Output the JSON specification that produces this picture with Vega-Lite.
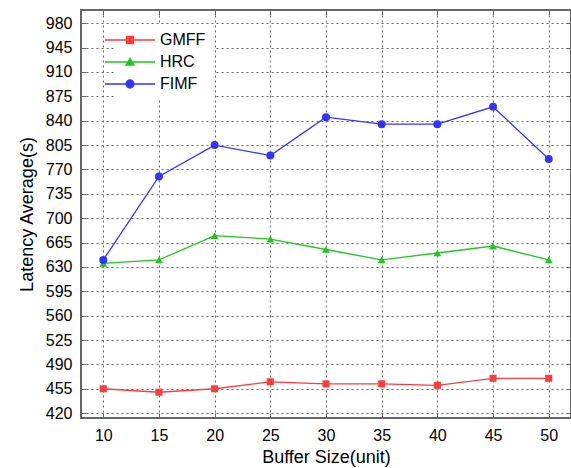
{
  "$schema": "https://vega.github.io/schema/vega-lite/v6.json",
  "width": 490,
  "height": 408,
  "autosize": "none",
  "padding": {"left": 81, "top": 10, "right": 0, "bottom": 50},
  "config": {
    "font": "Liberation Sans",
    "view": {"stroke": "#666666", "strokeWidth": 2},
    "axis": {"labelFont": "Liberation Sans", "titleFont": "Liberation Sans", "labelColor": "#000", "titleColor": "#000", "titleFontWeight": "normal"}
  },
  "data": {
    "values": [
      {"x": 10, "y": 455, "s": "GMFF"}, {"x": 15, "y": 450, "s": "GMFF"}, {"x": 20, "y": 455, "s": "GMFF"},
      {"x": 25, "y": 465, "s": "GMFF"}, {"x": 30, "y": 462, "s": "GMFF"}, {"x": 35, "y": 462, "s": "GMFF"},
      {"x": 40, "y": 460, "s": "GMFF"}, {"x": 45, "y": 470, "s": "GMFF"}, {"x": 50, "y": 470, "s": "GMFF"},
      {"x": 10, "y": 635, "s": "HRC"}, {"x": 15, "y": 640, "s": "HRC"}, {"x": 20, "y": 675, "s": "HRC"},
      {"x": 25, "y": 670, "s": "HRC"}, {"x": 30, "y": 655, "s": "HRC"}, {"x": 35, "y": 640, "s": "HRC"},
      {"x": 40, "y": 650, "s": "HRC"}, {"x": 45, "y": 660, "s": "HRC"}, {"x": 50, "y": 640, "s": "HRC"},
      {"x": 10, "y": 640, "s": "FIMF"}, {"x": 15, "y": 760, "s": "FIMF"}, {"x": 20, "y": 805, "s": "FIMF"},
      {"x": 25, "y": 790, "s": "FIMF"}, {"x": 30, "y": 845, "s": "FIMF"}, {"x": 35, "y": 835, "s": "FIMF"},
      {"x": 40, "y": 835, "s": "FIMF"}, {"x": 45, "y": 860, "s": "FIMF"}, {"x": 50, "y": 785, "s": "FIMF"}
    ]
  },
  "resolve": {"axis": {"x": "independent", "y": "independent"}},
  "layer": [
    {
      "mark": {"type": "line", "strokeWidth": 1.3},
      "encoding": {
        "x": {
          "field": "x", "type": "quantitative",
          "scale": {"domain": [8, 52], "nice": false, "zero": false},
          "axis": {
            "values": [10, 15, 20, 25, 30, 35, 40, 45, 50],
            "title": "Buffer Size(unit)", "titleFontSize": 18, "titlePadding": 5,
            "labelFontSize": 16, "labelPadding": 14,
            "grid": true, "gridDash": [2, 3], "gridColor": "#666666", "gridOpacity": 1, "gridWidth": 1,
            "domain": false, "tickSize": -5, "tickColor": "#666666", "tickWidth": 1
          }
        },
        "y": {
          "field": "y", "type": "quantitative",
          "scale": {"domain": [413, 999], "nice": false, "zero": false},
          "axis": {
            "values": [420, 455, 490, 525, 560, 595, 630, 665, 700, 735, 770, 805, 840, 875, 910, 945, 980],
            "title": "Latency Average(s)", "titleFontSize": 18, "titlePadding": 9,
            "labelFontSize": 16, "labelPadding": 14,
            "grid": true, "gridDash": [2, 3], "gridColor": "#666666", "gridOpacity": 1, "gridWidth": 1,
            "domain": false, "tickSize": -5, "tickColor": "#666666", "tickWidth": 1
          }
        },
        "color": {
          "field": "s", "type": "nominal",
          "scale": {"domain": ["GMFF", "HRC", "FIMF"], "range": ["#ff3b3b", "#1ec81e", "#3333ff"]},
          "legend": {
            "title": null, "orient": "none", "legendX": 33, "legendY": 14,
            "padding": 8, "fillColor": "white", "strokeColor": null,
            "labelFontSize": 16, "labelFont": "Liberation Sans", "labelColor": "#000",
            "labelOffset": 22, "rowPadding": 6, "symbolSize": 100,
            "encode": {
              "symbols": {
                "update": {
                  "shape": {"signal": "datum.value === 'GMFF' ? 'M-5,0H5M-0.7,-0.7H0.7V0.7H-0.7Z' : datum.value === 'HRC' ? 'M-5,0H5M0,-0.75L0.8,0.6L-0.8,0.6Z' : 'M-5,0H5M0.8,0A0.8,0.8 0 1 1 -0.8,0A0.8,0.8 0 1 1 0.8,0Z'"},
                  "fill": {"signal": "datum.value === 'GMFF' ? '#ff3b3b' : datum.value === 'HRC' ? '#1ec81e' : '#3333ff'"},
                  "stroke": {"signal": "datum.value === 'GMFF' ? '#ff3b3b' : datum.value === 'HRC' ? '#1ec81e' : '#3333ff'"},
                  "strokeWidth": {"value": 1.3},
                  "size": {"value": 100},
                  "opacity": {"value": 1},
                  "fillOpacity": {"value": 1}
                }
              }
            }
          }
        }
      }
    },
    {
      "transform": [{"filter": "datum.s === 'GMFF'"}],
      "mark": {"type": "point", "filled": true, "opacity": 1, "size": 50, "shape": "square"},
      "encoding": {
        "x": {
          "field": "x", "type": "quantitative",
          "axis": {
            "orient": "top", "values": [10, 15, 20, 25, 30, 35, 40, 45, 50],
            "labels": false, "title": null, "grid": false, "domain": false,
            "tickSize": -5, "tickColor": "#666666", "tickWidth": 1
          }
        },
        "y": {
          "field": "y", "type": "quantitative",
          "axis": {
            "orient": "right",
            "values": [420, 455, 490, 525, 560, 595, 630, 665, 700, 735, 770, 805, 840, 875, 910, 945, 980],
            "labels": false, "title": null, "grid": false, "domain": false,
            "tickSize": -5, "tickColor": "#666666", "tickWidth": 1
          }
        },
        "color": {"field": "s", "type": "nominal"}
      }
    },
    {
      "transform": [{"filter": "datum.s === 'HRC'"}],
      "mark": {"type": "point", "filled": true, "opacity": 1, "size": 60, "shape": "triangle-up"},
      "encoding": {
        "x": {"field": "x", "type": "quantitative", "axis": null},
        "y": {"field": "y", "type": "quantitative", "axis": null},
        "color": {"field": "s", "type": "nominal"}
      }
    },
    {
      "transform": [{"filter": "datum.s === 'FIMF'"}],
      "mark": {"type": "point", "filled": true, "opacity": 1, "size": 64, "shape": "circle"},
      "encoding": {
        "x": {"field": "x", "type": "quantitative", "axis": null},
        "y": {"field": "y", "type": "quantitative", "axis": null},
        "color": {"field": "s", "type": "nominal"}
      }
    }
  ]
}
